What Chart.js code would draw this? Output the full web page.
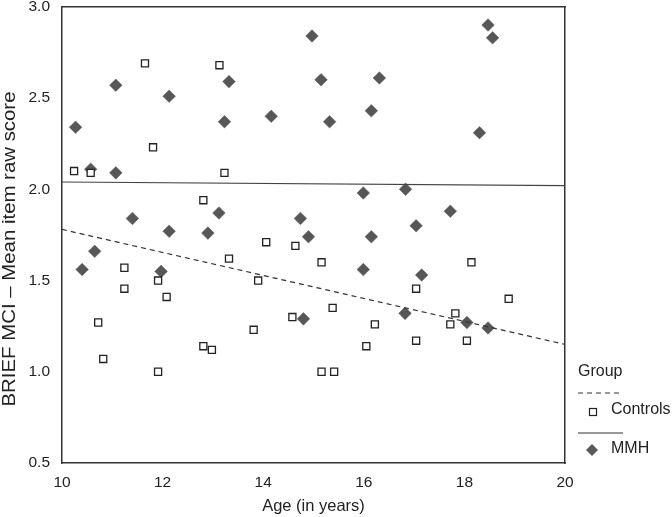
<!DOCTYPE html>
<html><head><meta charset="utf-8">
<script src="https://cdn.jsdelivr.net/npm/chart.js@4/dist/chart.umd.min.js"></script>
<style>html,body{margin:0;padding:0;background:#fff}#w{width:672px;height:517px}</style>
</head><body><div id="w"><canvas id="c"></canvas></div>
<script>
const controlsAge = [11.65,13.13,11.81,10.24,10.57,13.23,12.81,14.06,14.64,13.32,11.24,11.91,13.90,11.24,12.08,10.72,14.58,13.81,10.82,12.81,12.98,11.91,15.16,18.14,17.04,18.88,15.38,17.82,16.22,17.72,16.05,17.04,18.05,15.16,15.41];
const controlsScore = [2.69,2.68,2.23,2.10,2.09,2.09,1.94,1.71,1.69,1.62,1.57,1.50,1.50,1.455,1.41,1.27,1.30,1.23,1.07,1.14,1.12,1.00,1.60,1.60,1.455,1.40,1.35,1.32,1.26,1.26,1.14,1.17,1.17,1.00,1.00];
const mmhAge = [14.97,11.07,12.13,13.32,10.27,13.23,14.16,10.57,11.07,13.12,11.40,14.74,12.13,12.90,14.90,18.47,18.56,15.15,16.31,15.32,16.15,18.30,15.99,16.83,17.72,17.04,16.15,10.65,10.40,11.97,14.80,15.99,17.15,16.82,18.05,18.47];
const mmhScore = [2.84,2.57,2.51,2.59,2.34,2.37,2.40,2.11,2.09,1.87,1.84,1.84,1.77,1.76,1.74,2.90,2.83,2.60,2.61,2.37,2.43,2.31,1.98,2.00,1.88,1.80,1.74,1.66,1.56,1.55,1.29,1.56,1.53,1.32,1.27,1.24];
const fitAge = [10, 20];
const controlsFit = [1.78, 1.15];
const mmhFit = [2.04, 2.02];
const xTicks = [10,12,14,16,18,20];
const yTicks = [0.5,1.0,1.5,2.0,2.5,3.0];
const xTitle = "Age (in years)";
const yTitle = "BRIEF MCI \u2013 Mean item raw score";
const legendTitle = "Group";
const legendLabels = ["Controls", "MMH"];

const pts = (xs, ys) => xs.map((x, i) => ({x, y: ys[i]}));
const FONT = "'Liberation Sans', Arial, sans-serif";
const INK = '#222';

const extrasPlugin = {
  id: 'extras',
  afterDraw(chart) {
    const ctx = chart.ctx;
    ctx.save();
    ctx.fillStyle = INK;
    ctx.font = '18px ' + FONT;
    ctx.textBaseline = 'middle';
    ctx.textAlign = 'center';
    ctx.save();
    ctx.translate(10, 249);
    ctx.rotate(-Math.PI / 2);
    const w = ctx.measureText(yTitle).width;
    ctx.scale(315 / w, 1);
    ctx.fillText(yTitle, 0, 0);
    ctx.restore();
    ctx.font = '16px ' + FONT;
    ctx.textAlign = 'left';
    ctx.fillText(legendTitle, 578, 372);
    ctx.strokeStyle = '#333';
    ctx.lineWidth = 1.2;
    ctx.setLineDash([5, 4]);
    ctx.beginPath(); ctx.moveTo(578, 393); ctx.lineTo(623, 393); ctx.stroke();
    ctx.setLineDash([]);
    ctx.beginPath(); ctx.moveTo(578, 433); ctx.lineTo(623, 433); ctx.stroke();
    ctx.fillStyle = '#fff';
    ctx.strokeStyle = '#222';
    ctx.lineWidth = 1.2;
    ctx.fillRect(589.5, 408.5, 7, 7); ctx.strokeRect(589.5, 408.5, 7, 7);
    ctx.fillStyle = '#595959';
    ctx.beginPath(); ctx.moveTo(592, 444); ctx.lineTo(598, 450); ctx.lineTo(592, 456); ctx.lineTo(586, 450); ctx.closePath(); ctx.fill();
    ctx.fillStyle = INK;
    ctx.fillText(legendLabels[0], 611, 410);
    ctx.fillText(legendLabels[1], 611, 449);
    ctx.restore();
  }
};

new Chart(document.getElementById('c'), {
  type: 'scatter',
  data: {
    datasets: [
      { label: 'Controls fit', type: 'line', data: pts(fitAge, controlsFit), borderColor: '#333', borderWidth: 1.2, borderDash: [5,4], pointRadius: 0, fill: false },
      { label: 'MMH fit', type: 'line', data: pts(fitAge, mmhFit), borderColor: '#444', borderWidth: 1.2, pointRadius: 0, fill: false },
      { label: legendLabels[0], data: pts(controlsAge, controlsScore), pointStyle: 'rect', pointRadius: 5, pointBackgroundColor: '#fff', pointBorderColor: '#222', pointBorderWidth: 1.3 },
      { label: legendLabels[1], data: pts(mmhAge, mmhScore), pointStyle: 'rectRot', pointRadius: 6.3, pointBackgroundColor: '#575757', pointBorderColor: '#575757', pointBorderWidth: 0.5 }
    ]
  },
  options: {
    responsive: true, maintainAspectRatio: false, animation: false,
    layout: { padding: { left: 0, right: 107, top: 5, bottom: 0 } },
    plugins: { legend: { display: false }, tooltip: { enabled: false } },
    scales: {
      x: {
        type: 'linear', min: 10, max: 20,
        afterBuildTicks: s => { s.ticks = xTicks.map(v => ({value: v})); },
        afterFit: s => { s.height = 54; s.paddingLeft = 0; s.paddingRight = 0; },
        grid: { display: false, drawTicks: true, tickLength: 5, tickColor: '#333' },
        border: { display: true, color: '#333', width: 1.5 },
        ticks: { color: INK, font: { family: FONT, size: 15.5 }, padding: 5, maxRotation: 0 },
        title: { display: true, text: xTitle, color: INK, font: { family: FONT, size: 16.5 }, padding: { top: 0, bottom: 1 } }
      },
      y: {
        type: 'linear', min: 0.5, max: 3.0,
        afterBuildTicks: s => { s.ticks = yTicks.map(v => ({value: v})); },
        afterFit: s => { s.width = 62; s.paddingTop = 0; s.paddingBottom = 0; },
        grid: { display: false, drawTicks: true, tickLength: 5, tickColor: '#333' },
        border: { display: true, color: '#333', width: 1.5 },
        ticks: { color: INK, font: { family: FONT, size: 15.5 }, padding: 7, callback: v => Number(v).toFixed(1) },
        title: { display: false }
      },
      x2: { position: 'top', type: 'linear', min: 10, max: 20, display: true, grid: { display: false, drawTicks: false }, border: { display: true, color: '#333', width: 1.5 }, ticks: { display: false }, afterFit: s => { s.height = 0; s.paddingLeft = 0; s.paddingRight = 0; } },
      y2: { position: 'right', type: 'linear', min: 0.5, max: 3.0, display: true, grid: { display: false, drawTicks: false }, border: { display: true, color: '#333', width: 1.5 }, ticks: { display: false }, afterFit: s => { s.width = 0; s.paddingTop = 0; s.paddingBottom = 0; } }
    }
  },
  plugins: [extrasPlugin]
});
</script></body></html>
